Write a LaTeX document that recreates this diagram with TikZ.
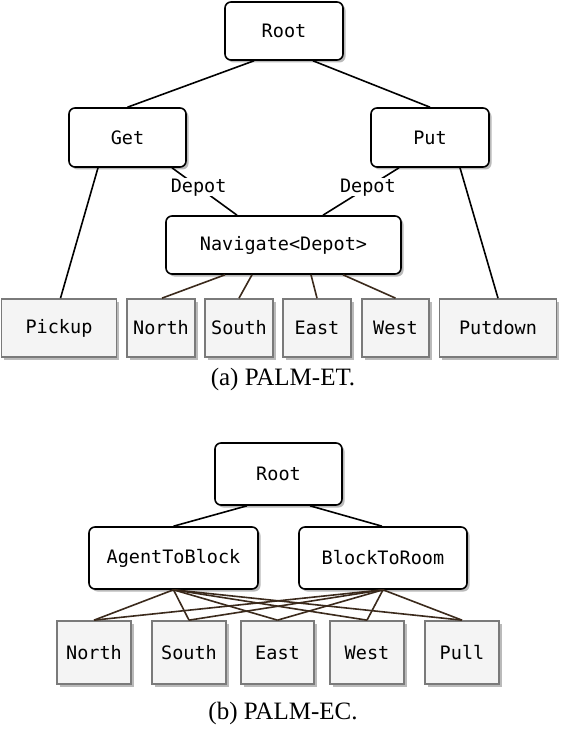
\documentclass[tikz,border=0pt]{standalone}
\usepackage{fontspec}
\setmainfont{Liberation Serif}
\newfontfamily\monofont{DejaVu Sans Mono}
\usetikzlibrary{shadows}
\definecolor{leafborder}{HTML}{7A7A7A}
\definecolor{leaffill}{HTML}{F4F4F4}
\definecolor{edgebrown}{HTML}{3B2A1C}
\tikzset{
  taskbox/.style={draw=black, line width=1.6pt, rounded corners=6pt, fill=white,
    inner sep=0pt, font=\monofont\fontsize{18.5}{20}\selectfont,
    drop shadow={shadow xshift=2.5pt, shadow yshift=-2.5pt, fill=black!45, opacity=0.6}},
  leafbox/.style={draw=leafborder, line width=1.7pt, fill=leaffill,
    inner sep=0pt, font=\monofont\fontsize{18.5}{20}\selectfont,
    drop shadow={shadow xshift=2.5pt, shadow yshift=-2.5pt, fill=black!45, opacity=0.6}},
  edgeblack/.style={draw=black, line width=1.6pt},
  edgeleaf/.style={draw=edgebrown, line width=1.6pt},
  lbl/.style={fill=white, inner sep=0.5pt, font=\monofont\fontsize{18.5}{20}\selectfont},
  caption/.style={font=\fontsize{25}{27}\selectfont, inner sep=0pt}
}
\begin{document}
\begin{tikzpicture}[x=1pt,y=-1pt]
\fill[white] (0,0) rectangle (560,730);
\useasboundingbox (0,0) rectangle (560,730);

% ---------- (a) PALM-ET ----------
\node[taskbox, minimum width=118pt, minimum height=58pt] (root) at (284,31) {Root};
\node[taskbox, minimum width=117pt, minimum height=59pt] (get) at (127.5,137.5) {Get};
\node[taskbox, minimum width=118pt, minimum height=59pt] (put) at (430,137.5) {Put};
\node[taskbox, minimum width=235pt, minimum height=58pt] (nav) at (283.5,245) {Navigate<Depot>};

\node[leafbox, minimum width=115pt, minimum height=58pt] (pickup) at (59,328) {Pickup};
\node[leafbox, minimum width=68pt, minimum height=58pt] (north) at (161,328) {North};
\node[leafbox, minimum width=68pt, minimum height=58pt] (south) at (239,328) {South};
\node[leafbox, minimum width=68pt, minimum height=58pt] (east) at (317,328) {East};
\node[leafbox, minimum width=67pt, minimum height=58pt] (west) at (395.5,328) {West};
\node[leafbox, minimum width=117pt, minimum height=58pt] (putdown) at (498,328) {Putdown};

\draw[edgeblack] ([xshift=-30pt]root.south) -- (get.north);
\draw[edgeblack] ([xshift=29pt]root.south) -- (put.north);
\draw[edgeblack] ([xshift=-29.5pt]get.south) -- ([xshift=1.5pt]pickup.north);
\draw[edgeblack] ([xshift=30pt]put.south) -- (putdown.north);
\draw[edgeblack] ([xshift=44.5pt]get.south) -- node[lbl, pos=0.41] (depotl) {Depot} ([xshift=-46.5pt]nav.north);
\draw[edgeblack] ([xshift=-31pt]put.south) -- node[lbl, pos=0.41] (depotr) {Depot} ([xshift=39.5pt]nav.north);

\draw[edgeleaf] ([xshift=-58.5pt]nav.south) -- ([xshift=1pt]north.north);
\draw[edgeleaf] ([xshift=-31.5pt]nav.south) -- (south.north);
\draw[edgeleaf] ([xshift=27.5pt]nav.south) -- (east.north);
\draw[edgeleaf] ([xshift=59.5pt]nav.south) -- (west.north);

\node[caption] (capa) at (283,379) {(a) PALM-ET.};

% ---------- (b) PALM-EC ----------
\node[taskbox, minimum width=127pt, minimum height=62pt] (rootb) at (278.5,474) {Root};
\node[taskbox, minimum width=169pt, minimum height=62pt] (agent) at (173.5,558) {AgentToBlock};
\node[taskbox, minimum width=168pt, minimum height=62pt] (block) at (383,558) {BlockToRoom};

\node[leafbox, minimum width=74pt, minimum height=63pt] (northb) at (94,652.5) {North};
\node[leafbox, minimum width=74pt, minimum height=63pt] (southb) at (189,652.5) {South};
\node[leafbox, minimum width=73pt, minimum height=63pt] (eastb) at (277.5,652.5) {East};
\node[leafbox, minimum width=74pt, minimum height=63pt] (westb) at (367,652.5) {West};
\node[leafbox, minimum width=74pt, minimum height=63pt] (pull) at (462,652.5) {Pull};

\draw[edgeblack] ([xshift=-31.5pt]rootb.south) -- (agent.north);
\draw[edgeblack] ([xshift=31.5pt]rootb.south) -- ([xshift=-1pt]block.north);

\foreach \leaf in {northb,southb,eastb,westb,pull}{
  \draw[edgeleaf] (agent.south) -- (\leaf.north);
  \draw[edgeleaf] (block.south) -- (\leaf.north);
}

\node[caption] (capb) at (283,713) {(b) PALM-EC.};
\end{tikzpicture}
\end{document}
